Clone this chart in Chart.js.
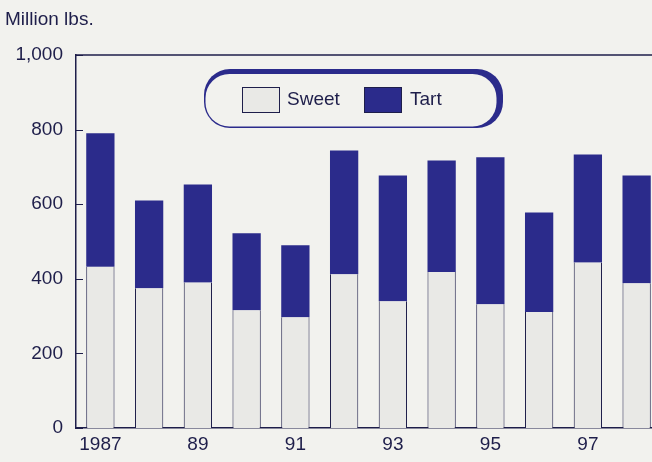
<!DOCTYPE html>
<html>
<head>
<meta charset="utf-8">
<script src="https://cdn.jsdelivr.net/npm/chart.js@4.4.0/dist/chart.umd.min.js"></script>
<style>
  html, body { margin: 0; padding: 0; background: #f2f2ee; overflow: hidden; }
  #wrap { width: 652px; height: 462px; overflow: hidden; position: relative; }
  #box { width: 661px; height: 462px; }
</style>
</head>
<body>
<div id="wrap"><div id="box"><canvas id="cherryChart"></canvas></div></div>
<script>
// Data
var years = ['1987', '1988', '1989', '1990', '1991', '1992', '1993', '1994', '1995', '1996', '1997', '1998'];
var tickLabels = ['1987', '', '89', '', '91', '', '93', '', '95', '', '97', ''];
var sweet = [432, 375, 390, 316, 297, 412, 340, 418, 332, 311, 444, 388];
var tart = [358, 235, 263, 206, 193, 332, 337, 299, 394, 267, 289, 289];
var yTicks = [0, 200, 400, 600, 800, 1000];

var ink = '#1e1e4a';
var navy = '#2b2b8b';
var sweetFill = '#e9e9e6';
var bg = '#f2f2ee';
var font = 'Liberation Sans, Arial, sans-serif';

// Unit label, top frame line, inward y ticks and the rounded legend
var decorations = {
    id: 'decorations',
    afterDraw: function (chart) {
        var c = chart.ctx;
        var area = chart.chartArea;
        var y = chart.scales.y;
        c.save();
        c.fillStyle = ink;
        c.font = '19px ' + font;
        c.textBaseline = 'middle';
        c.textAlign = 'left';
        c.fillText('Million lbs.', 5, 20);

        c.strokeStyle = ink;
        c.lineWidth = 1.5;
        c.beginPath();
        c.moveTo(area.left, area.top);
        c.lineTo(chart.width, area.top);
        c.stroke();

        c.lineWidth = 1;
        yTicks.forEach(function (v) {
            var py = Math.round(y.getPixelForValue(v)) + 0.5;
            c.beginPath();
            c.moveTo(area.left, py);
            c.lineTo(area.left + 7, py);
            c.stroke();
        });

        // legend frame with heavy top/right edge
        c.fillStyle = navy;
        c.beginPath();
        c.roundRect(204, 69, 299, 59, 26);
        c.fill();
        c.fillStyle = bg;
        c.beginPath();
        c.roundRect(205.5, 74, 291, 52.5, 24);
        c.fill();

        var sets = chart.data.datasets;
        var items = [{ x: 242, tx: 287 }, { x: 364, tx: 410 }];
        sets.forEach(function (ds, i) {
            var it = items[i];
            c.fillStyle = ds.backgroundColor;
            c.fillRect(it.x, 87, 37, 25);
            c.strokeStyle = ink;
            c.lineWidth = 1;
            c.strokeRect(it.x + 0.5, 87.5, 37, 25);
            c.fillStyle = ink;
            c.font = '19px ' + font;
            c.fillText(ds.label, it.tx, 100);
        });
        c.restore();
    }
};

var ctx = document.getElementById('cherryChart').getContext('2d');
var chart = new Chart(ctx, {
    type: 'bar',
    data: {
        labels: years,
        datasets: [{
            label: 'Sweet',
            data: sweet,
            backgroundColor: sweetFill,
            borderColor: ink,
            borderWidth: { left: 1, right: 1, top: 0, bottom: 0 },
            borderSkipped: false,
            categoryPercentage: 1,
            barPercentage: 0.58
        }, {
            label: 'Tart',
            data: tart,
            backgroundColor: navy,
            borderWidth: 0,
            categoryPercentage: 1,
            barPercentage: 0.58
        }]
    },
    options: {
        responsive: true,
        maintainAspectRatio: false,
        animation: false,
        layout: { padding: { top: 55, left: 0, right: 0, bottom: 0 } },
        plugins: {
            legend: { display: false },
            tooltip: { enabled: false }
        },
        scales: {
            x: {
                stacked: true,
                grid: { display: false, drawTicks: false },
                border: { color: ink, width: 1.5 },
                ticks: {
                    color: ink,
                    font: { family: font, size: 19 },
                    padding: 5,
                    autoSkip: false,
                    maxRotation: 0,
                    callback: function (v, i) { return tickLabels[i]; }
                },
                afterFit: function (s) { s.height = 34; }
            },
            y: {
                stacked: true,
                min: 0,
                max: 1000,
                grid: { display: false, drawTicks: false },
                border: { color: ink, width: 1.5 },
                afterBuildTicks: function (s) {
                    s.ticks = yTicks.map(function (v) { return { value: v }; });
                },
                ticks: {
                    color: ink,
                    font: { family: font, size: 19 },
                    padding: 13,
                    callback: function (v) { return v.toLocaleString('en-US'); }
                },
                afterFit: function (s) { s.width = 76; }
            }
        }
    },
    plugins: [decorations]
});
</script>
</body>
</html>
